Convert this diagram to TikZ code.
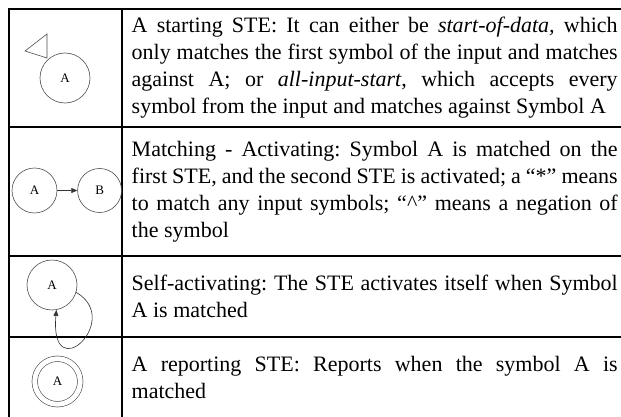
\documentclass[tikz,border=0pt]{standalone}
\usepackage{fontspec}
\setmainfont{Liberation Serif}
\usetikzlibrary{arrows.meta,positioning}
\frenchspacing

\begin{document}
\begin{tikzpicture}[x=1pt,y=-1pt,
    ste/.style={circle,draw=black!70,line width=0.6pt,inner sep=0pt,
        minimum size=50pt,font=\fontsize{13}{13}\selectfont},
    desc/.style={anchor=west,text width=486pt,align=justify,inner sep=0pt,
        font=\fontsize{22}{27}\selectfont},
    rule/.style={line width=2.6pt},
    act/.style={draw=black!80,line width=0.6pt,-{Triangle[length=6pt,width=5pt]}}]
\useasboundingbox (0,0) rectangle (621,417);
\draw[rule] (9,417) |- (621,9);
\draw[rule] (122,9) -- (122,417);
\foreach \y in {127,256,337}
    \draw[rule] (9,\y) -- (621,\y);

\node[ste] (start) at (65,78) {A};
\draw[draw=black!70,line width=0.6pt] (25,51) -- (47,34) -- (47,58) -- cycle;
\node[desc] (startdesc) at (131.5,68) {A starting STE: It can either be
    \textit{start-of-data,} which\linebreak only matches the first symbol of
    the input and matches\linebreak against A; or \textit{all-input-start},
    which accepts every\linebreak symbol from the input and matches against
    Symbol A};

\node[ste,minimum size=45pt] (matchA) at (34.5,190.5) {A};
\node[ste,minimum size=44pt,right=20pt of matchA] (matchB) {B};
\draw[act] (matchA) -- (matchB);
\node[desc] (matchdesc) at (131.5,191.5) {Matching - Activating: Symbol A is
    matched on the\linebreak first STE, and the second STE is activated; a
    “*” means\linebreak to match any input symbols; “\textasciicircum” means
    a negation of\linebreak the symbol};

\node[ste] (self) at (52,285) {A};
\draw[act] (self.-17) .. controls +(-30:55pt) and +(-95:80pt) .. (self.-80);
\node[desc] (selfdesc) at (131.5,296.5) {Self-activating: The STE activates
    itself when Symbol\linebreak A is matched};

\node[ste,minimum size=45.5pt,double,double distance=4.9pt] (report)
    at (57.5,381.5) {A};
\node[desc] (reportdesc) at (131.5,377) {A reporting STE: Reports when the
    symbol A is\linebreak matched};
\end{tikzpicture}
\end{document}
